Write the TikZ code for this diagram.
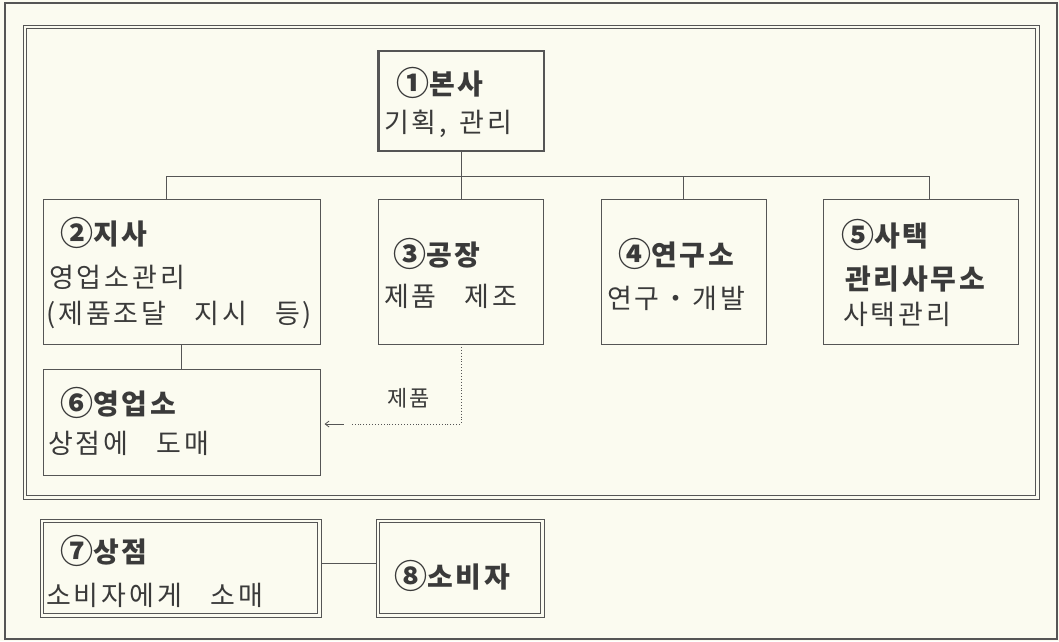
\documentclass[tikz,border=0pt]{standalone}
\usepackage{fontspec}
\usetikzlibrary{arrows.meta}
\newfontfamily\kr[LetterSpace=11,WordSpace=3.1]{Noto Sans CJK KR}
\newfontfamily\krb[LetterSpace=10,WordSpace=3.1]{Noto Sans CJK KR}
\newfontfamily\krsmall[LetterSpace=8,WordSpace=3]{Noto Sans CJK KR}
\newcommand{\cnum}[1]{{\fontsize{33}{30}\selectfont\raisebox{-1pt}{#1}}}
\definecolor{paper}{RGB}{251,251,240}
\definecolor{ink}{RGB}{58,58,58}
\definecolor{rule}{RGB}{85,85,85}
\begin{document}
\begin{tikzpicture}[x=1pt,y=-1pt,
  box/.style={draw=rule,line width=0.9pt,anchor=north west,inner sep=0pt,outer sep=0pt},
  hqbox/.style={box,line width=2.4pt},
  link/.style={draw=rule,line width=0.9pt},
  thin/.style={draw=rule,line width=0.9pt},
  txt/.style={anchor=base west,inner sep=0pt,text=ink,font=\kr\fontsize{27}{30}\selectfont},
  ttl/.style={anchor=base west,inner sep=0pt,text=ink,font=\krb\fontsize{28}{30}\selectfont\bfseries},
  lbl/.style={anchor=center,inner sep=0pt,text=ink,font=\krsmall\fontsize{22}{26}\selectfont}]
\useasboundingbox (0,0) rectangle (1059,641);
\fill[paper] (0,0) rectangle (1059,641);
% frames
\draw[draw=rule,line width=2pt] (5,3) rectangle (1057,639);
\draw[thin] (23,25) rectangle (1039,499);
\draw[thin] (26.5,28.5) rectangle (1035.5,495.5);
% boxes
\node[hqbox,minimum width=165.4pt,minimum height=100pt] (hq) at (378.6,51) {};
\node[box,minimum width=277.5pt,minimum height=144.5pt] (b2) at (43,199.5) {};
\node[box,minimum width=165pt,minimum height=144.5pt] (b3) at (378.6,199.5) {};
\node[box,minimum width=165pt,minimum height=144.5pt] (b4) at (601,199.5) {};
\node[box,minimum width=194.5pt,minimum height=144.5pt] (b5) at (823.5,199.5) {};
\node[box,minimum width=277.5pt,minimum height=106pt] (b6) at (43,369) {};
\node[box,minimum width=281pt,minimum height=98pt] (b7) at (40,519) {};
\node[box,minimum width=168pt,minimum height=98pt] (b8) at (376,519) {};
\draw[thin] ([shift={(3.5pt,-3.5pt)}]b7.north west) rectangle ([shift={(-3.5pt,3.5pt)}]b7.south east);
\draw[thin] ([shift={(3.5pt,-3.5pt)}]b8.north west) rectangle ([shift={(-3.5pt,3.5pt)}]b8.south east);
% connectors
\coordinate (j2) at (166,176);
\coordinate (j5) at (929,176);
\draw[link] (hq.south) -- (hq.south |- b3.north);
\draw[link] (j2) -- (j5);
\draw[link] (j2) -- (j2 |- b2.north);
\draw[link] (b4.north) -- (b4.north |- j2);
\draw[link] (j5) -- (j5 |- b5.north);
\draw[link] (b2.south) -- (b6.north);
\draw[draw=rule,line width=0.9pt,dotted] (b3.south) |- ([xshift=30pt,yshift=-2pt]b6.east);
\draw[draw=rule,line width=0.8pt,-{Straight Barb[length=4pt,width=6pt]}] ([xshift=23pt,yshift=-2pt]b6.east) -- ([xshift=4pt,yshift=-2pt]b6.east);
\draw[link] ([yshift=5pt]b7.east) -- ([yshift=5pt]b8.west);
% texts
\node[ttl] (t1a) at (396,94.5) {\cnum{①}본사};
\node[txt] (t1b) at (384,132) {기획,\kern12pt관리};
\node[ttl] (t2a) at (60,244) {\cnum{②}지사};
\node[txt] (t2b) at (49,287.6) {영업소관리};
\node[txt] (t2c) at (46,323) {(제품조달 지시 등)};
\node[ttl] (t3a) at (393,265) {\cnum{③}공장};
\node[txt] (t3b) at (384,306) {제품 제조};
\node[ttl] (t4a) at (618,265) {\cnum{④}연구소};
\node[txt] (t4b) at (607,308.6) {연구・개발};
\node[ttl] (t5a) at (841,246.6) {\cnum{⑤}사택};
\node[ttl] (t5b) at (845,289) {관리사무소};
\node[txt] (t5c) at (843,324.6) {사택관리};
\node[ttl] (t6a) at (60,414.5) {\cnum{⑥}영업소};
\node[txt] (t6b) at (48,453.6) {상점에 도매};
\node[lbl] (lp) at (409,398.6) {제품};
\node[ttl] (t7a) at (60,562) {\cnum{⑦}상점};
\node[txt] (t7b) at (46,605) {소비자에게 소매};
\node[ttl] (t8) at (394,587) {\cnum{⑧}소비자};
\end{tikzpicture}
\end{document}
